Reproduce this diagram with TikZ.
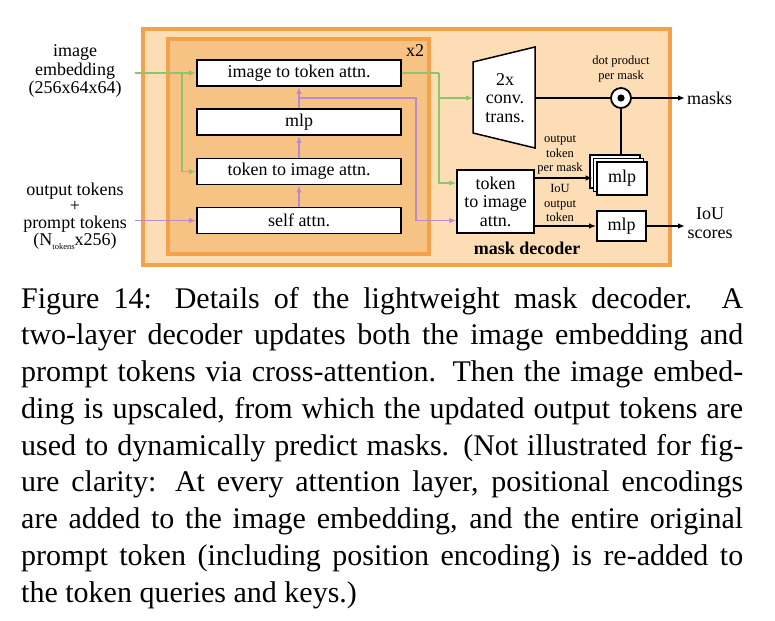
\documentclass[tikz,border=0pt]{standalone}
\usepackage{fontspec}
\setmainfont{Liberation Serif}
\usetikzlibrary{arrows.meta}
\definecolor{ofill}{HTML}{FDDDB5}
\definecolor{oborder}{HTML}{F3A24A}
\definecolor{ifill}{HTML}{F7C385}
\definecolor{gline}{HTML}{8CC66C}
\definecolor{pline}{HTML}{B98BCB}
\newcommand{\dgfont}{\rmfamily\fontsize{18}{18.5}\selectfont}
\newcommand{\dgsmall}{\rmfamily\fontsize{12.5}{14.5}\selectfont}
\newcommand{\dgcap}{\rmfamily\fontsize{30}{36.75}\selectfont}
\tikzset{
  container/.style={draw=oborder, inner sep=0pt},
  layerbox/.style={draw=black, line width=1.8pt, fill=white, minimum width=204pt, minimum height=26pt, inner sep=0pt, font=\dgfont},
  mlpbox/.style={draw=black, line width=1.8pt, fill=white, minimum width=50pt, minimum height=33pt, inner sep=0pt, font=\dgfont},
  lbl/.style={align=center, inner sep=0pt, font=\dgfont},
  slbl/.style={align=center, inner sep=0pt, font=\dgsmall},
  garrow/.style={draw=gline, line width=1.8pt, -{Latex[length=7pt,width=5.5pt]}},
  gline/.style={draw=gline, line width=1.8pt},
  parrow/.style={draw=pline, line width=1.8pt, -{Latex[length=7pt,width=5.5pt]}},
  pline/.style={draw=pline, line width=1.8pt},
  barrow/.style={draw=black, line width=1.8pt, -{Latex[length=7pt,width=5.5pt]}},
  bline/.style={draw=black, line width=1.8pt},
  capline/.style={anchor=base west, inner sep=0pt, font=\dgcap},
}
\begin{document}
\begin{tikzpicture}[x=1pt,y=-1pt]
\useasboundingbox (0,0) rectangle (775,620);
% containers
\node[container, fill=ofill, line width=4pt, minimum width=527pt, minimum height=236pt] (outer) at (406.5,147) {};
\node[container, fill=ifill, line width=3.5pt, minimum width=261pt, minimum height=215pt] (inner) at (298.5,146.5) {};
\node[lbl] (x2) at (415,51) {x2};
\node[lbl, font=\dgfont\bfseries] (md) at (527,248) {mask decoder};

% layer boxes
\node[layerbox] (ita) at (299,73) {image to token attn.};
\node[layerbox] (mlpA) at (299,122) {mlp};
\node[layerbox] (tia) at (299,171.5) {token to image attn.};
\node[layerbox] (sa) at (299,220.5) {self attn.};

% inputs
\node[lbl] (imemb) at (75,71) {image\\embedding\\(256x64x64)};
\node[lbl, font=\rmfamily\fontsize{18}{16.8}\selectfont] (outtok) at (75,216) {output tokens\\+\\prompt tokens\\(N\raisebox{-3.5pt}{\fontsize{8.5}{8.5}\selectfont tokens}x256)};
\coordinate (gin) at (135,73);
\coordinate (pin) at (135,220.5);

% decoder parts
\draw[line width=1.5pt, fill=white] (473,62) -- (535,47) -- (535,148) -- (473,133) -- cycle;
\coordinate (trL) at (473,98);
\coordinate (trR) at (535,98);
\node[lbl] (conv) at (505,98) {2x\\conv.\\trans.};

\node[draw=black, line width=1.2pt, fill=white, minimum width=77pt, minimum height=63pt, inner sep=0pt, align=center, font=\dgfont] (dtok) at (495.5,201.5) {token\\to image\\attn.};

\node[draw=black, line width=1.8pt, fill=white, circle, minimum size=20pt, inner sep=0pt] (dot) at (621,98) {};
\fill (dot.center) circle (3.6pt);
\node[slbl] (dotlbl) at (621,69) {dot product\\per mask};

\node[mlpbox] (mlpc) at (615,171.5) {};
\node[mlpbox] (mlpb) at (618.5,175) {};
\node[mlpbox] (mlpf) at (622,178.5) {mlp};
\node[mlpbox, minimum width=49pt, minimum height=30pt] (mlp2) at (621.5,226) {mlp};

\node[slbl] (otpm) at (560,155) {output\\token\\per mask};
\node[slbl] (iouot) at (560,203) {IoU\\output\\token};

\coordinate (maskend) at (685,98);
\node[lbl, anchor=west] (masks) at (687,98) {masks};
\coordinate (iouend) at (685,226);
\node[lbl] (ious) at (710,223) {IoU\\scores};

% green connectors
\coordinate (gsplit) at (182,73);
\draw[garrow] (gin) -- (ita.west);
\draw[garrow] (gsplit) |- (tia.west);
\coordinate (gR) at (439,73);
\draw[gline] (ita.east) -- (gR);
\draw[garrow] (gR) |- (dtok.west |- 0,183);
\draw[garrow] (gR |- trL) -- (trL);

% purple connectors
\draw[parrow] (pin) -- (sa.west);
\draw[parrow] (sa.north) -- (tia.south);
\draw[parrow] (tia.north) -- (mlpA.south);
\draw[parrow] (mlpA.north) -- (ita.south);
\coordinate (pA) at (299,98);
\coordinate (pB) at (416,98);
\draw[parrow] (pA) -- (pB) |- (dtok.west |- 0,220.5);

% black connectors
\draw[bline] (trR) -- (dot.west);
\draw[barrow] (dot.east) -- (maskend);
\draw[bline] (dot.south) -- (dot.south |- mlpc.north);
\draw[barrow] (dtok.east |- 0,178) -- (mlpb.west |- 0,178);
\draw[barrow] (dtok.east |- mlp2.west) -- (mlp2.west);
\draw[barrow] (mlp2.east) -- (iouend);

% caption
\node[capline] (c1) at (21,308) {\makebox[722pt][s]{Figure 14: Details of the lightweight mask decoder. A}};
\node[capline] (c2) at (21,344.75) {\makebox[722pt][s]{two-layer decoder updates both the image embedding and}};
\node[capline] (c3) at (21,381.5) {\makebox[722pt][s]{prompt tokens via cross-attention. Then the image embed-}};
\node[capline] (c4) at (21,418.25) {\makebox[722pt][s]{ding is upscaled, from which the updated output tokens are}};
\node[capline] (c5) at (21,455) {\makebox[722pt][s]{used to dynamically predict masks. (Not illustrated for fig-}};
\node[capline] (c6) at (21,491.75) {\makebox[722pt][s]{ure clarity: At every attention layer, positional encodings}};
\node[capline] (c7) at (21,528.5) {\makebox[722pt][s]{are added to the image embedding, and the entire original}};
\node[capline] (c8) at (21,565.25) {\makebox[722pt][s]{prompt token (including position encoding) is re-added to}};
\node[capline] (c9) at (21,602) {the token queries and keys.)};
\end{tikzpicture}
\end{document}
